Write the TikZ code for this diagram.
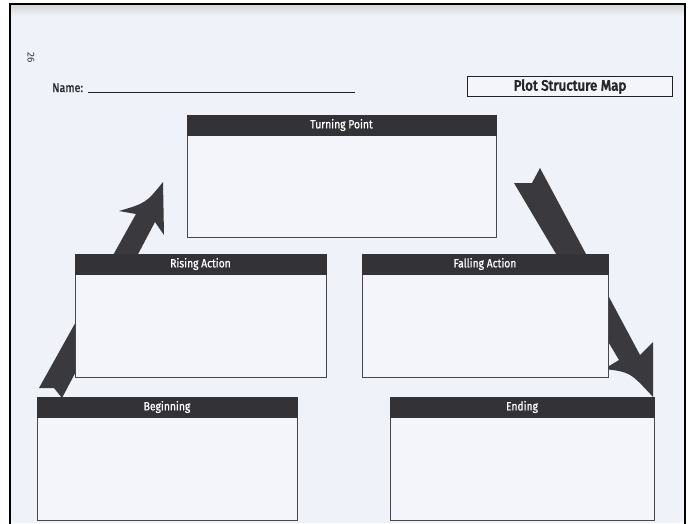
\documentclass[tikz,border=0pt]{standalone}
\usepackage{fontspec}
\setmainfont{Fira Sans}
\newfontfamily\cond[FakeStretch=0.86,FakeBold=0.8]{Fira Sans}
\newfontfamily\heavy[FakeStretch=0.92,FakeBold=4.5]{Fira Sans}
\definecolor{pagebg}{HTML}{EFF2F9}
\definecolor{boxbg}{HTML}{F3F5FB}
\definecolor{hdr}{HTML}{333236}
\definecolor{arrowc}{HTML}{3A393D}
\definecolor{boxline}{HTML}{48474B}
\definecolor{inkc}{HTML}{222225}
\tikzset{
  mapbox/.style={draw=boxline, line width=0.9pt, fill=boxbg, inner sep=0pt, outer sep=0pt, anchor=north west},
  hdrbar/.style={draw=hdr, fill=hdr, line width=0.9pt, inner sep=0pt, outer sep=0pt, anchor=north west,
    minimum height=20pt, text=white, font=\cond\fontsize{12}{12}\selectfont},
  bigarrow/.style={fill=arrowc, draw=none},
}
\begin{document}
\begin{tikzpicture}[x=1pt,y=-1pt]
\useasboundingbox (0,0) rectangle (689,523);
% page
\fill[white] (0,0) rectangle (689,523);
\fill[pagebg] (10,4) rectangle (685,523);
\shade[top color=black!16, bottom color=pagebg] (10,5) rectangle (685,16);
\draw[black, line width=2.6pt] (10,530) -- (10,4) -- (685,4) -- (685,530);
% page number
\node[rotate=-90, font=\fontsize{10}{10}\selectfont, text=black!80] (pnum) at (31,58) {26};
% name line
\node[anchor=base west, font=\cond\fontsize{12.5}{13}\selectfont, text=inkc, inner sep=0pt] (name) at (52,92) {Name:};
\coordinate (nl1) at (88,92);
\coordinate (nl2) at (355,92);
\draw[inkc, line width=0.9pt] (nl1) -- (nl2);
% title
\node[draw=inkc, line width=1.1pt, fill=boxbg, minimum width=205pt, minimum height=20pt, inner sep=0pt, anchor=north west,
  font=\heavy\fontsize{14.5}{15}\selectfont, text=black!85] (title) at (467,76) {Plot Structure Map};
% big arrows (behind boxes)
\coordinate (la1) at (39,388);
\coordinate (la2) at (136,214);
\coordinate (la3) at (119,211);
\coordinate (latip) at (163,182);
\coordinate (la5) at (164,235);
\coordinate (la6) at (155,222);
\coordinate (la7) at (62,398);
\coordinate (la8) at (54,388);
\fill[bigarrow] (la1) -- (la2) -- (la3) .. controls (146,203) .. (latip) -- (la5) -- (la6) -- (la7) -- (la8) -- cycle;
\coordinate (ra1) at (514,183);
\coordinate (ra2) at (532,183);
\coordinate (ra3) at (540,168);
\coordinate (ra4) at (640,355);
\coordinate (ra5) at (653,342);
\coordinate (ratip) at (653,397);
\coordinate (ra7) at (604,369);
\coordinate (ra8) at (619,360);
\fill[bigarrow] (ra1) -- (ra2) -- (ra3) -- (ra4) -- (ra5) -- (ratip) .. controls (630,372) .. (ra7) -- (ra8) -- cycle;
% boxes
\node[mapbox, minimum width=309pt, minimum height=122pt] (tp) at (187,115) {};
\node[hdrbar, minimum width=309pt] (tph) at (187,115) {Turning Point};
\node[mapbox, minimum width=251pt, minimum height=123pt] (ra) at (75,254) {};
\node[hdrbar, minimum width=251pt] (rah) at (75,254) {Rising Action};
\node[mapbox, minimum width=246pt, minimum height=123pt] (fa) at (362,254) {};
\node[hdrbar, minimum width=246pt] (fah) at (362,254) {Falling Action};
\node[mapbox, minimum width=260pt, minimum height=123pt] (bg) at (37,397) {};
\node[hdrbar, minimum width=260pt] (bgh) at (37,397) {Beginning};
\node[mapbox, minimum width=264pt, minimum height=123pt] (en) at (390,397) {};
\node[hdrbar, minimum width=264pt] (enh) at (390,397) {Ending};
\end{tikzpicture}
\end{document}
